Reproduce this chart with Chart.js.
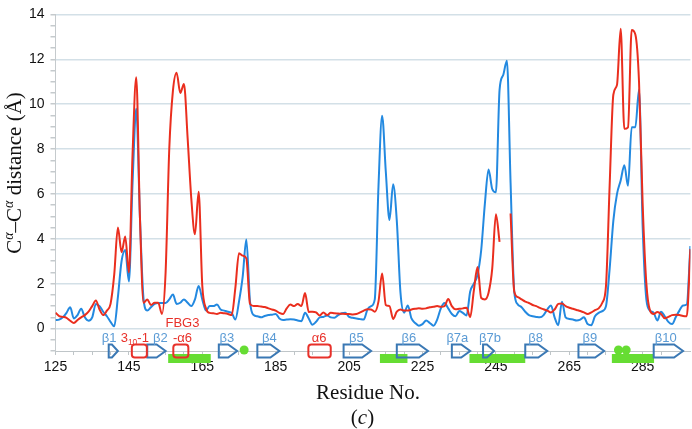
<!DOCTYPE html>
<html>
<head>
<meta charset="utf-8">
<script src="https://cdn.jsdelivr.net/npm/chart.js@4.4.0/dist/chart.umd.min.js"></script>
<style>
  html, body { margin: 0; padding: 0; background: #fff; }
  #wrap { width: 692px; height: 429px; position: relative; }
</style>
</head>
<body>
<div id="wrap"><canvas id="myChart"></canvas></div>
<script>
// residue numbers 125..298, one value per residue
const firstResidue = 125;

// red trace (gap at 247-248)
const redDist = [
  0.71, 0.55, 0.52, 0.48, 0.35, 0.25, 0.38, 0.5, 0.6, 0.75,      // 125-134
  1.0, 1.25, 0.85, 0.6, 0.8, 1.1, 2.4, 4.5, 3.4, 4.1,             // 135-144
  2.5, 7.8, 11.2, 5.0, 1.15, 1.3, 1.05, 1.15, 1.15, 0.65,         // 145-154
  2.5, 8.0, 10.6, 11.4, 10.5, 10.9, 8.5, 5.8, 4.2, 6.1,           // 155-164
  1.9, 0.9, 0.7, 0.68, 0.65, 0.7, 0.68, 0.65, 0.6, 1.8,           // 165-174
  3.36, 3.25, 3.13, 1.1, 1.0, 1.0, 0.98, 0.96, 0.9, 0.85,         // 175-184
  0.8, 0.7, 0.65, 0.9, 1.07, 1.0, 1.1, 1.0, 1.58, 0.74,           // 185-194
  0.75, 0.72, 0.58, 0.72, 0.6, 0.7, 0.68, 0.67, 0.66, 0.65,       // 195-204
  0.65, 0.63, 0.65, 0.72, 0.8, 0.86, 0.85, 0.75, 1.2, 2.45,       // 205-214
  1.05, 1.0, 0.43, 0.75, 0.85, 0.8, 0.8, 0.85, 0.88, 0.9,         // 215-224
  0.88, 0.9, 0.95, 0.97, 1.0, 0.97, 1.0, 1.32, 1.0, 0.86,         // 225-234
  0.88, 0.9, 0.93, 0.51, 1.7, 2.74, 1.36, 1.3, 1.6, 2.67,         // 235-244
  5.09, 3.86, null, null, 5.13, 1.65, 1.4, 1.3, 1.2, 1.14,        // 245-254
  1.05, 1.0, 0.92, 0.86, 0.8, 0.72, 0.85, 1.1, 1.12, 1.0,         // 255-264
  0.93, 0.88, 0.83, 0.78, 0.72, 0.65, 0.72, 0.82, 0.9, 1.15,      // 265-274
  1.9, 6.4, 10.42, 10.86, 13.36, 8.9, 8.97, 13.3, 13.1, 11.0,     // 275-284
  5.5, 2.0, 0.8, 0.65, 0.74, 0.65, 0.46, 0.52, 0.6, 0.62,         // 285-294
  0.6, 0.56, 0.55, 3.54                                           // 295-298
];

// blue trace
const blueDist = [
  0.38, 0.4, 0.5, 0.7, 0.95, 0.45, 0.6, 0.88, 0.5, 0.35,          // 125-134
  0.5, 1.1, 1.0, 0.75, 0.55, 0.3, 0.1, 1.4, 3.0, 3.5,             // 135-144
  2.1, 6.5, 9.8, 5.0, 1.3, 0.8, 0.95, 1.1, 1.14, 1.14,            // 145-154
  1.14, 1.3, 1.52, 1.1, 1.15, 1.3, 1.15, 1.0, 1.3, 1.9,           // 155-164
  1.3, 0.8, 1.0, 1.0, 1.07, 0.85, 0.8, 0.75, 0.7, 0.4,            // 165-174
  1.2, 2.3, 3.97, 1.2, 0.6, 0.55, 0.5, 0.56, 0.6, 0.62,           // 175-184
  0.65, 0.45, 0.38, 0.4, 0.42, 0.4, 0.36, 0.33, 0.7, 0.45,        // 185-194
  0.17, 0.3, 0.5, 0.52, 0.58, 0.5, 0.48, 0.6, 0.68, 0.7,          // 195-204
  0.52, 0.48, 0.45, 0.42, 0.4, 0.85, 1.0, 1.3, 6.3, 9.48,         // 205-214
  7.0, 4.84, 6.43, 4.8, 1.6, 0.71, 1.03, 0.45, 0.25, 0.13,        // 215-224
  0.2, 0.36, 0.25, 0.13, 0.4, 0.9, 1.14, 0.9, 0.65, 0.55,         // 225-234
  0.78, 0.7, 0.58, 1.65, 2.0, 2.4, 3.5, 5.57, 7.09, 6.22,         // 235-244
  6.07, 10.64, 11.3, 11.94, 6.5, 1.65, 1.07, 0.95, 0.75, 0.6,     // 245-254
  0.55, 0.52, 0.5, 0.6, 0.85, 1.03, 0.5, 0.15, 1.2, 0.5,          // 255-264
  0.43, 0.4, 0.36, 0.4, 0.5, 0.2, 0.15, 0.55, 0.7, 0.78,          // 265-274
  1.0, 2.67, 4.8, 6.0, 6.6, 7.28, 6.36, 8.97, 8.97, 10.64,        // 275-284
  4.5, 1.3, 0.8, 0.7, 0.36, 0.75, 0.55, 0.3, 0.2, 0.5,            // 285-294
  0.8, 1.03, 1.07, 3.68                                           // 295-298
];

const residues = redDist.map((_, i) => firstResidue + i);

// secondary structure (residue ranges)
const strandLabels = ['β1', 'β2', 'β3', 'β4', 'β5', 'β6', 'β7a', 'β7b', 'β8', 'β9', 'β10'];
const strandStart  = [139.5, 150, 169.5, 180, 203.5, 218, 233, 241.5, 253, 267.5, 288];
const strandEnd    = [142, 155, 174.5, 186, 211, 226.5, 238, 244.5, 259, 274.5, 296];
const strandLabelAt = [139.6, 153.6, 171.7, 183.3, 207, 221.3, 234.5, 243.4, 255.8, 270.6, 291.3];

const helixLabels  = ['3_{10}-1', 'FBG3\n-α6', 'α6'];
const helixStart   = [145.8, 157.1, 193.9];
const helixEnd     = [149.9, 161.2, 200];
const helixLabelAt = [146.6, 159.6, 196.8];

const loopStart = [155.7, 213.4, 237.8, 276.6];
const loopEnd   = [167.3, 220.9, 253, 288.1];
const bendAt    = [176.4, 278.4, 280.5];

const RED = '#ea2e1e';
const BLUE = '#2389e0';
const GREEN = '#66dd33';
const STRAND = '#3a78b4';
const STRAND_TXT = '#5b9bd5';
const HELIX = '#e8312a';
const SERIF = '"Liberation Serif", "Times New Roman", serif';
const SANS = '"Liberation Sans", Arial, sans-serif';

Chart.defaults.font.family = SANS;

function roundBox(ctx, x0, y0, w, h, r) {
  ctx.beginPath();
  ctx.moveTo(x0 + r, y0);
  ctx.arcTo(x0 + w, y0, x0 + w, y0 + h, r);
  ctx.arcTo(x0 + w, y0 + h, x0, y0 + h, r);
  ctx.arcTo(x0, y0 + h, x0, y0, r);
  ctx.arcTo(x0, y0, x0 + w, y0, r);
  ctx.closePath();
}

// text with _{sub} parts, centred on cx
function richText(ctx, str, cx, cy, size) {
  const parts = [];
  str.split(/(_\{[^}]*\})/).forEach(p => {
    if (!p) return;
    if (p.startsWith('_{')) parts.push({ t: p.slice(2, -1), sub: true });
    else parts.push({ t: p, sub: false });
  });
  let w = 0;
  parts.forEach(p => {
    ctx.font = (p.sub ? size * 0.65 : size) + 'px ' + SANS;
    p.w = ctx.measureText(p.t).width;
    w += p.w;
  });
  let xx = cx - w / 2;
  ctx.textAlign = 'left';
  parts.forEach(p => {
    ctx.font = (p.sub ? size * 0.65 : size) + 'px ' + SANS;
    ctx.fillText(p.t, xx, cy + (p.sub ? 4 : 0));
    xx += p.w;
  });
}

const structurePlugin = {
  id: 'structure',
  afterDraw(chart) {
    const { ctx, scales: { x, y } } = chart;
    const yc = y.getPixelForValue(-1);
    const yText = y.getPixelForValue(-0.43);
    ctx.save();

    // loops under the axis
    ctx.fillStyle = GREEN;
    loopStart.forEach((s, i) => {
      const a = x.getPixelForValue(s), b = x.getPixelForValue(loopEnd[i]);
      ctx.fillRect(a, yc + 3, b - a, 9);
    });
    bendAt.forEach(p => {
      ctx.beginPath();
      ctx.arc(x.getPixelForValue(p), yc - 1, 4.5, 0, Math.PI * 2);
      ctx.fill();
    });

    // strands as arrows
    ctx.lineWidth = 2;
    ctx.strokeStyle = STRAND;
    ctx.lineJoin = 'miter';
    strandStart.forEach((s, i) => {
      const a = x.getPixelForValue(s), b = x.getPixelForValue(strandEnd[i]);
      const tip = Math.min(9, (b - a) * 0.65);
      ctx.beginPath();
      ctx.moveTo(a, yc - 6.5);
      ctx.lineTo(b - tip, yc - 6.5);
      ctx.lineTo(b, yc);
      ctx.lineTo(b - tip, yc + 6.5);
      ctx.lineTo(a, yc + 6.5);
      ctx.closePath();
      ctx.stroke();
    });
    ctx.fillStyle = STRAND_TXT;
    ctx.textBaseline = 'middle';
    strandLabels.forEach((t, i) => {
      richText(ctx, t, x.getPixelForValue(strandLabelAt[i]), yText, 13);
    });

    // helices as rounded boxes
    ctx.strokeStyle = HELIX;
    helixStart.forEach((s, i) => {
      const a = x.getPixelForValue(s), b = x.getPixelForValue(helixEnd[i]);
      roundBox(ctx, a, yc - 6.5, b - a, 13, 3);
      ctx.stroke();
    });
    ctx.fillStyle = HELIX;
    helixLabels.forEach((t, i) => {
      const lines = t.split('\n');
      lines.forEach((ln, k) => {
        const yy = yText - (lines.length - 1 - k) * 14.5;
        richText(ctx, ln, x.getPixelForValue(helixLabelAt[i]), yy, 13);
      });
    });

    // axis titles
    ctx.fillStyle = '#111';
    ctx.textBaseline = 'alphabetic';
    ctx.textAlign = 'center';
    ctx.font = '21px ' + SERIF;
    ctx.fillText('Residue No.', 368, 399);

    // (c) with italic c
    const pieces = [['(', ''], ['c', 'italic '], [')', '']];
    let w = 0;
    pieces.forEach(p => { ctx.font = p[1] + '21px ' + SERIF; p.w = ctx.measureText(p[0]).width; w += p.w; });
    let xx = 362.5 - w / 2;
    ctx.textAlign = 'left';
    pieces.forEach(p => { ctx.font = p[1] + '21px ' + SERIF; ctx.fillText(p[0], xx, 424); xx += p.w; });

    // y title, rotated, with superscript alpha
    const tparts = [['C', false], ['α', true], ['–C', false], ['α', true], [' distance (Å)', false]];
    ctx.save();
    ctx.translate(21, 173);
    ctx.rotate(-Math.PI / 2);
    let tw = 0;
    tparts.forEach(p => {
      ctx.font = p[1] ? 'italic 14px ' + SERIF : '21px ' + SERIF;
      p.w = ctx.measureText(p[0]).width;
      tw += p.w;
    });
    let tx = -tw / 2;
    tparts.forEach(p => {
      ctx.font = p[1] ? 'italic 14px ' + SERIF : '21px ' + SERIF;
      ctx.fillText(p[0], tx, p[1] ? -8 : 0);
      tx += p.w;
    });
    ctx.restore();

    ctx.restore();
  }
};

const ctx = document.getElementById('myChart').getContext('2d');

const chart = new Chart(ctx, {
  type: 'line',
  data: {
    datasets: [
      {
        label: 'red',
        data: residues.map((r, i) => ({ x: r, y: redDist[i] })),
        borderColor: RED,
        borderWidth: 2,
        pointRadius: 0,
        cubicInterpolationMode: 'monotone',
        spanGaps: false,
      },
      {
        label: 'blue',
        data: residues.map((r, i) => ({ x: r, y: blueDist[i] })),
        borderColor: BLUE,
        borderWidth: 2,
        pointRadius: 0,
        cubicInterpolationMode: 'monotone',
        spanGaps: false,
      },
    ],
  },
  options: {
    responsive: true,
    maintainAspectRatio: false,
    animation: false,
    layout: { padding: { left: 0, right: 1.6, top: 6, bottom: 0 } },
    plugins: { legend: { display: false }, tooltip: { enabled: false } },
    scales: {
      x: {
        type: 'linear',
        min: 125,
        max: 298,
        afterBuildTicks: (s) => { s.ticks = s.ticks.filter(t => t.value % 5 === 0); },
        afterFit: (s) => { s.height = 78; },
        ticks: {
          stepSize: 5,
          autoSkip: false,
          maxRotation: 0,
          padding: 4,
          color: '#111',
          font: { size: 14 },
          callback: (v) => ((v - 125) % 20 === 0 ? v : ''),
        },
        grid: { drawOnChartArea: false, tickLength: 4, color: '#bfc5c8' },
        border: { color: '#bfc5c8', width: 1 },
      },
      y: {
        min: -1,
        max: 14,
        afterFit: (s) => { s.width = 55.5; },
        ticks: {
          stepSize: 0.5,
          autoSkip: false,
          padding: 6,
          color: '#111',
          font: { size: 14 },
          callback: (v) => (v >= 0 && v % 2 === 0 ? v : ''),
        },
        grid: {
          color: (c) => (c.tick && c.tick.value >= 0 && c.tick.value % 2 === 0 ? '#d3e0e7' : 'rgba(0,0,0,0)'),
          lineWidth: 1.5,
          tickColor: '#c5cacd',
          tickLength: 5,
        },
        border: { color: '#c5cacd', width: 1 },
      },
    },
  },
  plugins: [structurePlugin],
});
</script>
</body>
</html>
